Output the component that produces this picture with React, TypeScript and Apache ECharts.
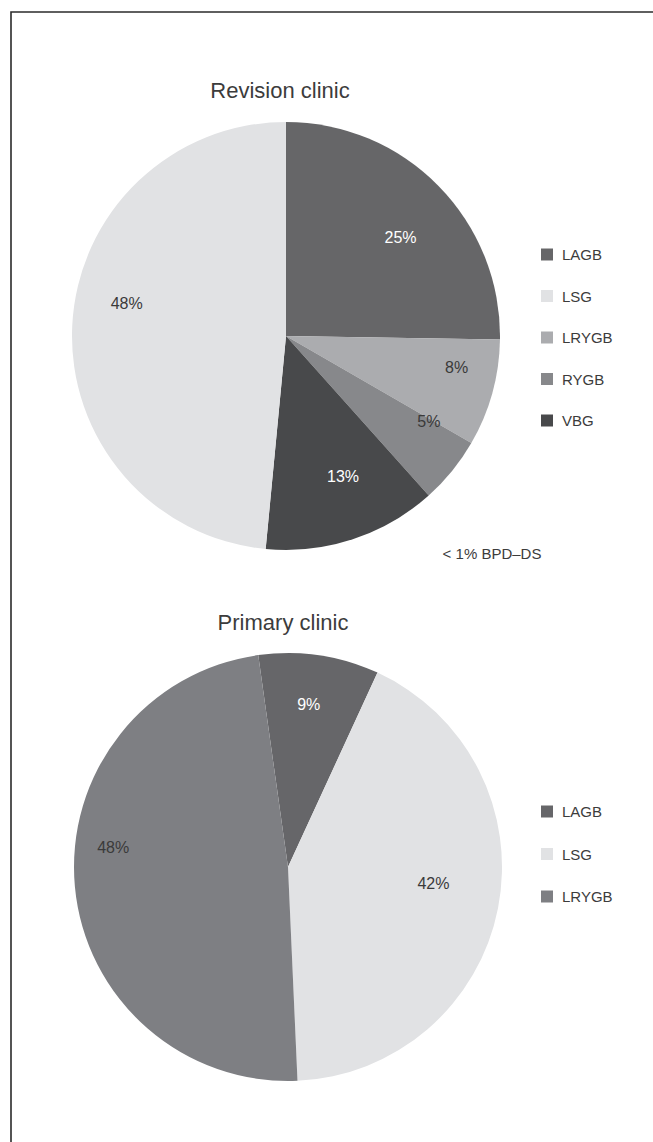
import React, { useEffect, useRef } from "react";
import * as echarts from "echarts";

// Revision clinic (clockwise from 12 o'clock)
const REV_NAMES = ["LAGB", "LRYGB", "RYGB", "VBG", "LSG"];
const REV_VALUES = [25, 8, 5, 13, 48];
const REV_LEGEND = ["LAGB", "LSG", "LRYGB", "RYGB", "VBG"];
const REV_NOTE = "< 1% BPD\u2013DS";

// Primary clinic
const PRI_NAMES = ["LAGB", "LSG", "LRYGB"];
const PRI_VALUES = [9, 42, 48];
const PRI_LEGEND = ["LAGB", "LSG", "LRYGB"];

const TITLES = ["Revision clinic", "Primary clinic"];

// styles
const REV_COLORS: Record<string, string> = {
  LAGB: "#666668",
  LSG: "#e1e2e4",
  LRYGB: "#abacaf",
  RYGB: "#87888b",
  VBG: "#48494b",
};
const PRI_COLORS: Record<string, string> = {
  LAGB: "#666669",
  LSG: "#e1e2e4",
  LRYGB: "#7e7f83",
};
const REV_LABEL_COLORS: Record<string, string> = {
  LAGB: "#ffffff",
  LSG: "#3a3a3a",
  LRYGB: "#3a3a3a",
  RYGB: "#3a3a3a",
  VBG: "#ffffff",
};
const PRI_LABEL_COLORS: Record<string, string> = {
  LAGB: "#ffffff",
  LSG: "#3a3a3a",
  LRYGB: "#3a3a3a",
};
const REV_SHIFT = [
  [-2, 16],
  [13, -12],
  [16, -18],
  [6, -15],
  [4, -25],
];
const PRI_SHIFT = [
  [-3, -1],
  [-15, -15],
  [-12, -35],
];

const FONT = "'Liberation Sans', Arial, Helvetica, sans-serif";
const TEXT = "#3c3c3c";

export default function App() {
  const ref = useRef<HTMLDivElement>(null);

  useEffect(() => {
    document.body.style.margin = "0";
    if (!ref.current) return;
    const chart = echarts.init(ref.current, null, { renderer: "svg" });

    const R1 = 214;
    const C1 = [286, 336];
    const R2 = 214;
    const C2 = [288, 867];

    const pieData = (
      names: string[],
      values: number[],
      colors: Record<string, string>
    ) => names.map((n, i) => ({ name: n, value: values[i], itemStyle: { color: colors[n] } }));

    const labelData = (
      names: string[],
      values: number[],
      lc: Record<string, string>
    ) =>
      names.map((n, i) => ({
        name: n,
        value: values[i],
        label: { color: lc[n] },
      }));

    const legendData = (names: string[], colors: Record<string, string>) =>
      names.map((n) => ({ name: n, itemStyle: { color: colors[n] } }));

    const legendBase = {
      orient: "vertical",
      icon: "rect",
      itemWidth: 12,
      itemHeight: 12,
      selectedMode: false,
      textStyle: { fontFamily: FONT, fontSize: 15, color: TEXT, padding: [0, 0, 0, 4] },
    };

    chart.setOption({
      animation: false,
      backgroundColor: "#ffffff",
      textStyle: { fontFamily: FONT },
      legend: [
        {
          ...legendBase,
          left: 536,
          top: 242,
          itemGap: 26.5,
          data: legendData(REV_LEGEND, REV_COLORS),
        },
        {
          ...legendBase,
          left: 536,
          top: 799,
          itemGap: 27.5,
          data: legendData(PRI_LEGEND, PRI_COLORS),
        },
      ],
      graphic: [
        {
          type: "rect",
          shape: { x: 11, y: 12, width: 700, height: 1300 },
          style: { fill: "none", stroke: "#2b2b2b", lineWidth: 1.6 },
          silent: true,
        },
        {
          type: "text",
          x: 280,
          y: 90,
          style: {
            text: TITLES[0],
            fontFamily: FONT,
            fontSize: 22,
            fill: TEXT,
            align: "center",
            verticalAlign: "middle",
          },
        },
        {
          type: "text",
          x: 283,
          y: 622,
          style: {
            text: TITLES[1],
            fontFamily: FONT,
            fontSize: 22,
            fill: TEXT,
            align: "center",
            verticalAlign: "middle",
          },
        },
        {
          type: "text",
          x: 492,
          y: 553,
          style: {
            text: REV_NOTE,
            fontFamily: FONT,
            fontSize: 15,
            fill: TEXT,
            align: "center",
            verticalAlign: "middle",
          },
        },
      ],
      series: [
        {
          name: "Revision clinic",
          type: "pie",
          center: C1,
          radius: [0, R1],
          startAngle: 90,
          clockwise: true,
          silent: true,
          label: { show: false },
          labelLine: { show: false },
          data: pieData(REV_NAMES, REV_VALUES, REV_COLORS),
        },
        {
          name: "Revision labels",
          type: "pie",
          center: C1,
          radius: [R1 - 107, R1],
          startAngle: 90,
          clockwise: true,
          silent: true,
          itemStyle: { color: "rgba(0,0,0,0)" },
          label: {
            show: true,
            position: "inside",
            formatter: "{c}%",
            fontFamily: FONT,
            fontSize: 16,
          },
          labelLayout: (p: any) => ({ dx: REV_SHIFT[p.dataIndex][0], dy: REV_SHIFT[p.dataIndex][1] }),
          labelLine: { show: false },
          data: labelData(REV_NAMES, REV_VALUES, REV_LABEL_COLORS),
        },
        {
          name: "Primary clinic",
          type: "pie",
          center: C2,
          radius: [0, R2],
          startAngle: 98,
          clockwise: true,
          silent: true,
          label: { show: false },
          labelLine: { show: false },
          data: pieData(PRI_NAMES, PRI_VALUES, PRI_COLORS),
        },
        {
          name: "Primary labels",
          type: "pie",
          center: C2,
          radius: [R2 - 107, R2],
          startAngle: 98,
          clockwise: true,
          silent: true,
          itemStyle: { color: "rgba(0,0,0,0)" },
          label: {
            show: true,
            position: "inside",
            formatter: "{c}%",
            fontFamily: FONT,
            fontSize: 16,
          },
          labelLayout: (p: any) => ({ dx: PRI_SHIFT[p.dataIndex][0], dy: PRI_SHIFT[p.dataIndex][1] }),
          labelLine: { show: false },
          data: labelData(PRI_NAMES, PRI_VALUES, PRI_LABEL_COLORS),
        },
      ],
    });

    return () => chart.dispose();
  }, []);

  return <div ref={ref} style={{ width: 653, height: 1142 }} />;
}
